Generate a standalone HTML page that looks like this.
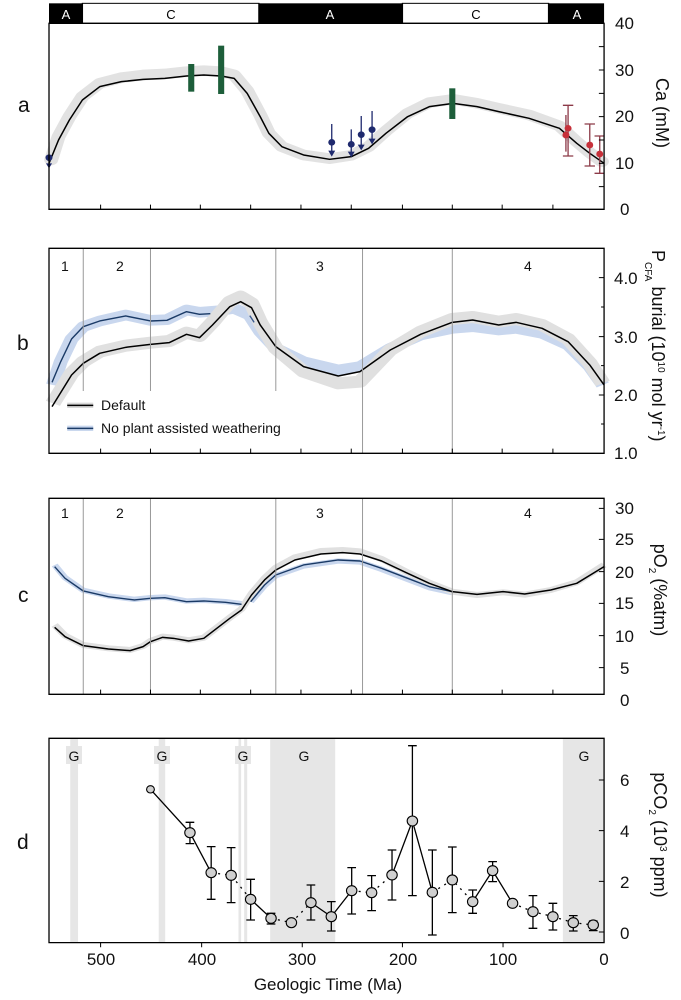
<!DOCTYPE html>
<html><head><meta charset="utf-8"><style>
html,body{margin:0;padding:0;background:#fff;}
svg{display:block;font-family:"Liberation Sans",sans-serif;}
</style></head><body>
<svg width="681" height="1000" viewBox="0 0 681 1000" xmlns="http://www.w3.org/2000/svg">
<!-- ============ PANEL A ============ -->
<g transform="translate(0,0) scale(0.43365,0.3333)">
  <rect x="113" y="10" width="77" height="60" fill="#000"/>
  <rect x="190" y="10" width="407" height="60" fill="#fff" stroke="#000" stroke-width="3"/>
  <rect x="597" y="10" width="331" height="60" fill="#000"/>
  <rect x="928" y="10" width="337" height="60" fill="#fff" stroke="#000" stroke-width="3"/>
  <rect x="1265" y="10" width="128" height="60" fill="#000"/>
  <polyline fill="none" stroke="#e2e2e2" stroke-width="32" stroke-linejoin="round" stroke-linecap="round"
   points="118,480 135,410 160,350 190,290 230,250 280,233 330,225 380,222 430,215 470,212 510,215 540,225 570,272 600,345 620,400 650,440 700,465 760,476 810,466 850,440 890,393 940,340 990,308 1045,298 1100,310 1150,325 1220,345 1290,378 1330,425 1360,458 1388,485"/>
  <polyline fill="none" stroke="#000" stroke-width="1.5" vector-effect="non-scaling-stroke" stroke-linejoin="round"
   points="113,490 135,420 160,360 190,300 230,260 280,245 330,238 380,235 430,228 470,225 510,228 540,235 570,280 600,350 620,400 650,440 700,465 760,478 810,470 850,445 890,400 940,350 990,320 1045,310 1100,320 1150,335 1220,355 1290,385 1330,430 1360,460 1393,490"/>
  <rect x="434" y="192" width="14" height="83" fill="#1d5e3a"/>
  <rect x="503" y="137" width="14" height="145" fill="#1d5e3a"/>
  <rect x="1036" y="265" width="14" height="92" fill="#1d5e3a"/>
  <g stroke="#8c3a48" fill="none">
    <path vector-effect="non-scaling-stroke" stroke-width="1.3" d="M1310,316V468M1298,316h24M1298,468h24M1305,345V455M1360,372V498M1348,372h24M1348,498h24M1383,408V520M1371,408h22M1371,520h22"/>
  </g>
  <g fill="#c7303a">
    <ellipse cx="1305" cy="405" rx="8" ry="10"/><ellipse cx="1310" cy="385" rx="8" ry="10"/>
    <ellipse cx="1360" cy="435" rx="8" ry="10"/><ellipse cx="1383" cy="462" rx="8" ry="10"/>
  </g>
  <g stroke="#1f2a6e" fill="#1f2a6e">
    <path vector-effect="non-scaling-stroke" stroke-width="1.3" d="M765,372V455M810,388V458M833,348V438M858,333V420"/>
    <ellipse cx="113" cy="473" rx="8" ry="10" stroke="none"/><polygon points="106,490 120,490 113,505" stroke="none"/>
    <ellipse cx="765" cy="427" rx="8" ry="10" stroke="none"/><polygon points="757,452 773,452 765,470" stroke="none"/>
    <ellipse cx="810" cy="433" rx="8" ry="10" stroke="none"/><polygon points="802,455 818,455 810,472" stroke="none"/>
    <ellipse cx="833" cy="404" rx="8" ry="10" stroke="none"/><polygon points="825,434 841,434 833,451" stroke="none"/>
    <ellipse cx="858" cy="389" rx="8" ry="10" stroke="none"/><polygon points="850,416 866,416 858,433" stroke="none"/>
  </g>
  <rect x="113" y="70" width="1280" height="558" fill="none" stroke="#000" stroke-width="1.3" vector-effect="non-scaling-stroke"/>
  <path stroke="#000" d="M232,628v-14M347,628v-14M462,628v-14M578,628v-14M694,628v-14M810,628v-14M928,628v-14M1043,628v-14M1158,628v-14M1275,628v-14M1393,140h-12M1393,210h-12M1393,280h-12M1393,350h-12M1393,420h-12M1393,490h-12M1393,560h-12" vector-effect="non-scaling-stroke"/>
</g>
<g font-size="13" fill="#fff" text-anchor="middle"><text x="66" y="19">A</text><text x="330" y="19">A</text><text x="577" y="19">A</text></g>
<g font-size="13" fill="#000" text-anchor="middle"><text x="171" y="19">C</text><text x="476" y="19">C</text></g>
<g font-size="17" fill="#111">
  <text x="615" y="29">40</text><text x="615" y="76">30</text><text x="615" y="122">20</text><text x="615" y="169">10</text><text x="620" y="215">0</text>
</g>
<text transform="translate(656,113) rotate(90)" font-size="18" text-anchor="middle" fill="#111">Ca (mM)</text>
<text x="18" y="112" font-size="21" fill="#111">a</text>

<!-- ============ PANEL B ============ -->
<g transform="translate(0,235) scale(0.43365,0.3333)">
  <polyline fill="none" stroke="#c9d7ee" stroke-width="32" stroke-linejoin="round" points="122,450 140,380 165,312 192,275 230,258 290,240 347,256 385,254 430,225 460,232 500,228 540,220 575,240 600,290 636,340 700,380 780,405 830,395 900,340 970,300 1043,280 1090,275 1150,285 1190,280 1250,295 1310,330 1360,395 1390,450"/>
  <polyline fill="none" stroke="#e0e0e0" stroke-width="36" stroke-linejoin="round" points="122,505 165,415 192,380 230,350 290,332 347,323 390,318 430,293 460,303 490,262 530,200 555,185 580,205 600,262 636,340 700,410 780,445 830,440 900,345 970,290 1043,252 1090,246 1150,260 1190,252 1250,270 1310,312 1360,384 1390,445"/>
  <polyline fill="none" stroke="#1a3a66" stroke-width="1.4" vector-effect="non-scaling-stroke" stroke-linejoin="round" points="120,442 140,380 165,312 192,275 230,258 290,243 347,258 385,256 430,230 460,238 485,236"/>
  <polyline fill="none" stroke="#3a5a90" stroke-width="1.4" vector-effect="non-scaling-stroke" points="576,242 586,262"/>
  <polyline fill="none" stroke="#000" stroke-width="1.5" vector-effect="non-scaling-stroke" stroke-linejoin="round" points="120,515 165,420 192,385 230,355 290,337 347,328 390,323 430,298 460,308 490,270 530,215 555,200 580,218 600,270 636,335 700,395 780,423 830,410 900,345 970,298 1043,262 1090,255 1150,270 1190,262 1250,280 1310,320 1360,390 1393,450"/>
  <path stroke="#999" stroke-width="1" fill="none" d="M192,40V468M347,40V468M636,40V468M836,40V655M1043,40V655" vector-effect="non-scaling-stroke"/>
  <rect x="155" y="503" width="60" height="16" fill="#d8d8d8"/>
  <line x1="155" y1="511" x2="215" y2="511" stroke="#000" stroke-width="1.5" vector-effect="non-scaling-stroke"/>
  <rect x="155" y="572" width="60" height="16" fill="#c9d7ee"/>
  <line x1="155" y1="580" x2="215" y2="580" stroke="#1a3a66" stroke-width="1.5" vector-effect="non-scaling-stroke"/>
  <rect x="113" y="40" width="1280" height="615" fill="none" stroke="#000" stroke-width="1.3" vector-effect="non-scaling-stroke"/>
  <path stroke="#000" d="M232,655v-14M347,655v-14M462,655v-14M578,655v-14M694,655v-14M810,655v-14M928,655v-14M1043,655v-14M1158,655v-14M1275,655v-14M1393,128h-12M1393,305h-12M1393,480h-12M1393,216h-7M1393,392h-7M1393,567h-7" vector-effect="non-scaling-stroke"/>
</g>
<g font-size="14" fill="#111">
  <text x="61" y="271">1</text><text x="116" y="271">2</text><text x="316" y="271">3</text><text x="524" y="271">4</text>
  <text x="101" y="410">Default</text><text x="101" y="433">No plant assisted weathering</text>
</g>
<g font-size="17" fill="#111">
  <text x="614" y="284">4.0</text><text x="614" y="343">3.0</text><text x="614" y="401">2.0</text><text x="614" y="459">1.0</text>
</g>
<g transform="translate(652,250) rotate(90)" fill="#111">
  <text x="0" y="0" font-size="18">P<tspan font-size="10" dy="7">CFA</tspan><tspan dy="-7"> burial (10</tspan><tspan font-size="10" dy="-6">10</tspan><tspan dy="6"> mol yr</tspan><tspan font-size="10" dy="-6">-1</tspan><tspan dy="6">)</tspan></text>
</g>
<text x="17" y="350" font-size="21" fill="#111">b</text>

<!-- ============ PANEL C ============ -->
<g transform="translate(0,485) scale(0.43365,0.3333)">
  <polyline fill="none" stroke="#c9d7ee" stroke-width="16" stroke-linejoin="round" points="126,240 150,278 192,316 250,333 310,343 347,338 380,336 430,348 470,346 520,350 557,356"/>
  <polyline fill="none" stroke="#c9d7ee" stroke-width="16" stroke-linejoin="round" points="578,350 610,302 636,272 700,243 780,228 830,231 880,253 940,283 990,308 1043,323"/>
  <polyline fill="none" stroke="#e0e0e0" stroke-width="18" stroke-linejoin="round" points="126,420 150,452 192,480 250,490 300,495 330,483 347,468 375,455 400,458 435,466 470,458 500,428 530,398 557,372 580,326 610,280 636,248 680,217 740,198 790,195 830,199 880,222 940,262 990,293 1043,320 1100,330 1160,322 1210,329 1270,315 1330,292 1393,240"/>
  <polyline fill="none" stroke="#1a3a66" stroke-width="1.4" vector-effect="non-scaling-stroke" stroke-linejoin="round" points="126,245 150,280 192,318 250,335 310,345 347,340 380,338 430,350 470,348 520,352 557,358"/>
  <polyline fill="none" stroke="#1a3a66" stroke-width="1.4" vector-effect="non-scaling-stroke" stroke-linejoin="round" points="578,350 610,300 636,270 700,240 780,225 830,228 880,250 940,280 990,305 1043,320"/>
  <polyline fill="none" stroke="#000" stroke-width="1.5" vector-effect="non-scaling-stroke" stroke-linejoin="round" points="126,427 150,455 192,482 250,492 300,497 330,485 347,470 375,457 400,460 435,468 470,460 500,430 530,400 557,375 580,330 610,285 636,255 680,225 740,207 790,203 830,207 880,228 940,265 990,295 1043,320 1100,328 1160,320 1210,327 1270,315 1330,295 1393,245"/>
  <path stroke="#999" stroke-width="1" fill="none" d="M192,40V628M347,40V628M636,40V628M836,40V628M1043,40V628" vector-effect="non-scaling-stroke"/>
  <rect x="113" y="40" width="1280" height="588" fill="none" stroke="#000" stroke-width="1.3" vector-effect="non-scaling-stroke"/>
  <path stroke="#000" d="M232,628v-14M347,628v-14M462,628v-14M578,628v-14M694,628v-14M810,628v-14M928,628v-14M1043,628v-14M1158,628v-14M1275,628v-14M1393,70h-12M1393,163h-12M1393,260h-12M1393,355h-12M1393,452h-12M1393,548h-12" vector-effect="non-scaling-stroke"/>
</g>
<g font-size="14" fill="#111">
  <text x="61" y="518">1</text><text x="116" y="518">2</text><text x="316" y="518">3</text><text x="524" y="518">4</text>
</g>
<g font-size="17" fill="#111">
  <text x="615" y="514">30</text><text x="615" y="545">25</text><text x="615" y="578">20</text><text x="615" y="609">15</text><text x="615" y="642">10</text><text x="620" y="674">5</text><text x="620" y="706">0</text>
</g>
<g transform="translate(654,590) rotate(90)" fill="#111">
  <text x="0" y="0" font-size="18" text-anchor="middle">pO<tspan font-size="10" dy="5">2</tspan><tspan dy="-5"> (%atm)</tspan></text>
</g>
<text x="18" y="602" font-size="21" fill="#111">c</text>

<!-- ============ PANEL D ============ -->
<g transform="translate(0,720) scale(0.43365,0.3333)">
  <g fill="#e6e6e6">
    <rect x="162" y="55" width="18" height="613"/><rect x="366" y="55" width="15" height="613"/>
    <rect x="550" y="55" width="6" height="613"/><rect x="563" y="55" width="7" height="613"/>
    <rect x="623" y="55" width="150" height="613"/><rect x="1298" y="55" width="95" height="613"/>
  </g>
  <g fill="none" stroke="#000" stroke-width="1.3">
    <polyline points="347,208 438,338 487,458" vector-effect="non-scaling-stroke"/>
    <polyline points="578,538 625,595" vector-effect="non-scaling-stroke"/>
    <polyline points="717,548 764,590 811,512" vector-effect="non-scaling-stroke"/>
    <polyline points="904,465 951,303 997,517" vector-effect="non-scaling-stroke"/>
    <polyline points="1090,545 1136,452 1182,550" vector-effect="non-scaling-stroke"/>
    <polyline points="487,458 533,466 578,538" stroke-dasharray="2 5" vector-effect="non-scaling-stroke"/>
    <polyline points="625,595 672,608 717,548" stroke-dasharray="2 5" vector-effect="non-scaling-stroke"/>
    <polyline points="811,512 857,518 904,465" stroke-dasharray="2 5" vector-effect="non-scaling-stroke"/>
    <polyline points="997,517 1043,480 1090,545" stroke-dasharray="2 5" vector-effect="non-scaling-stroke"/>
    <polyline points="1182,550 1229,575 1275,590 1322,608 1368,615" stroke-dasharray="2 5" vector-effect="non-scaling-stroke"/>
    <path vector-effect="non-scaling-stroke" d="
M438,307V371M428,307h20M428,371h20
M487,380V538M477,380h20M477,538h20
M533,383V548M523,383h20M523,548h20
M578,478V600M568,478h20M568,600h20
M625,580V612M615,580h20M615,612h20
M717,495V600M707,495h20M707,600h20
M764,545V633M754,545h20M754,633h20
M811,443V582M801,443h20M801,582h20
M857,467V572M847,467h20M847,572h20
M904,390V540M894,390h20M894,540h20
M951,77V527M941,77h20M941,527h20
M997,390V645M987,390h20M987,645h20
M1043,381V578M1033,381h20M1033,578h20
M1090,510V580M1080,510h20M1080,580h20
M1136,425V485M1126,425h20M1126,485h20
M1182,543V557M1172,543h20M1172,557h20
M1229,527V625M1219,527h20M1219,625h20
M1275,550V630M1265,550h20M1265,630h20
M1322,587V633M1312,587h20M1312,633h20
M1368,603V632M1358,603h20M1358,632h20"/>
  </g>
  <g fill="#d0d0d0" stroke="#000" stroke-width="1.1">
    <ellipse vector-effect="non-scaling-stroke" cx="347" cy="208" rx="9" ry="11"/>
    <ellipse vector-effect="non-scaling-stroke" cx="438" cy="338" rx="12" ry="15"/>
    <ellipse vector-effect="non-scaling-stroke" cx="487" cy="458" rx="12" ry="15"/>
    <ellipse vector-effect="non-scaling-stroke" cx="533" cy="466" rx="12" ry="15"/>
    <ellipse vector-effect="non-scaling-stroke" cx="578" cy="538" rx="12" ry="15"/>
    <ellipse vector-effect="non-scaling-stroke" cx="625" cy="595" rx="12" ry="15"/>
    <ellipse vector-effect="non-scaling-stroke" cx="672" cy="608" rx="12" ry="15"/>
    <ellipse vector-effect="non-scaling-stroke" cx="717" cy="548" rx="12" ry="15"/>
    <ellipse vector-effect="non-scaling-stroke" cx="764" cy="590" rx="12" ry="15"/>
    <ellipse vector-effect="non-scaling-stroke" cx="811" cy="512" rx="12" ry="15"/>
    <ellipse vector-effect="non-scaling-stroke" cx="857" cy="518" rx="12" ry="15"/>
    <ellipse vector-effect="non-scaling-stroke" cx="904" cy="465" rx="12" ry="15"/>
    <ellipse vector-effect="non-scaling-stroke" cx="951" cy="303" rx="12" ry="15"/>
    <ellipse vector-effect="non-scaling-stroke" cx="997" cy="517" rx="12" ry="15"/>
    <ellipse vector-effect="non-scaling-stroke" cx="1043" cy="480" rx="12" ry="15"/>
    <ellipse vector-effect="non-scaling-stroke" cx="1090" cy="545" rx="12" ry="15"/>
    <ellipse vector-effect="non-scaling-stroke" cx="1136" cy="452" rx="12" ry="15"/>
    <ellipse vector-effect="non-scaling-stroke" cx="1182" cy="550" rx="12" ry="15"/>
    <ellipse vector-effect="non-scaling-stroke" cx="1229" cy="575" rx="12" ry="15"/>
    <ellipse vector-effect="non-scaling-stroke" cx="1275" cy="590" rx="12" ry="15"/>
    <ellipse vector-effect="non-scaling-stroke" cx="1322" cy="608" rx="12" ry="15"/>
    <ellipse vector-effect="non-scaling-stroke" cx="1368" cy="615" rx="12" ry="15"/>
  </g>
  <rect x="113" y="55" width="1280" height="613" fill="none" stroke="#000" stroke-width="1.3" vector-effect="non-scaling-stroke"/>
  <path stroke="#000" d="M232,668v14M465,668v14M697,668v14M928,668v14M1160,668v14M1393,180h-12M1393,332h-12M1393,484h-12M1393,636h-12" vector-effect="non-scaling-stroke"/>
</g>
<g font-size="14" fill="#111" text-anchor="middle">
  <rect x="66" y="746" width="16" height="18" fill="#e6e6e6"/><text x="74" y="761">G</text>
  <rect x="154" y="746" width="16" height="18" fill="#e6e6e6"/><text x="162" y="761">G</text>
  <rect x="235" y="746" width="16" height="18" fill="#e6e6e6"/><text x="243" y="761">G</text>
  <text x="304" y="761">G</text>
  <text x="584" y="761">G</text>
</g>
<g font-size="17" fill="#111">
  <text x="620" y="786">6</text><text x="620" y="837">4</text><text x="620" y="888">2</text><text x="620" y="939">0</text>
</g>
<g font-size="17" fill="#111" text-anchor="middle">
  <text x="101" y="965">500</text><text x="202" y="965">400</text><text x="302" y="965">300</text><text x="403" y="965">200</text><text x="503" y="965">100</text><text x="604" y="965">0</text>
  <text x="328" y="990">Geologic Time (Ma)</text>
</g>
<g transform="translate(654,835) rotate(90)" fill="#111">
  <text x="0" y="0" font-size="18" text-anchor="middle">pCO<tspan font-size="10" dy="5">2</tspan><tspan dy="-5"> (10</tspan><tspan font-size="10" dy="-6">3</tspan><tspan dy="6"> ppm)</tspan></text>
</g>
<text x="17" y="849" font-size="21" fill="#111">d</text>
</svg>
</body></html>
